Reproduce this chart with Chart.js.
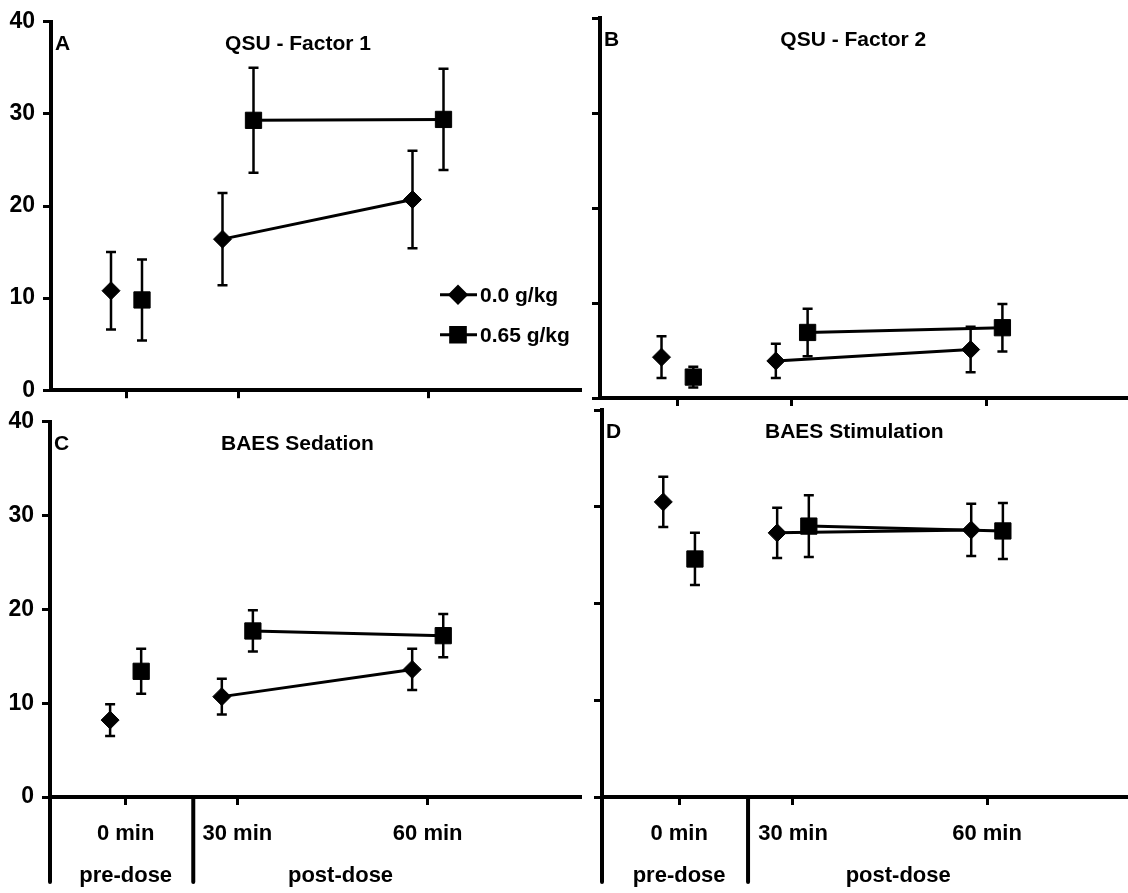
<!DOCTYPE html>
<html>
<head>
<meta charset="utf-8">
<script src="https://cdn.jsdelivr.net/npm/chart.js@4.4.0/dist/chart.umd.min.js"></script>
<style>
  body { margin: 0; background: #fff; }
  #wrap { position: relative; width: 1128px; height: 893px; }
  canvas { position: absolute; }
</style>
</head>
<body>
<div id="wrap">
  <canvas id="panelA" width="585" height="412" style="left:0;top:0"></canvas>
  <canvas id="panelB" width="543" height="412" style="left:585px;top:0"></canvas>
  <canvas id="panelC" width="585" height="493" style="left:0;top:400px"></canvas>
  <canvas id="panelD" width="543" height="493" style="left:585px;top:400px"></canvas>
</div>
<script>
// time points and labels
var categories = ['0 min', '30 min', '60 min'];
var groupLabels = ['pre-dose', 'post-dose'];
var seriesNames = ['0.0 g/kg', '0.65 g/kg'];
var panelLetters = ['A', 'B', 'C', 'D'];
var panelTitles = ['QSU - Factor 1', 'QSU - Factor 2', 'BAES Sedation', 'BAES Stimulation'];
var yTicks = [0, 10, 20, 30, 40];

// means (one per time point) and error bar half-widths
var qsu1Placebo = [10.8, 16.4, 20.7];
var qsu1PlaceboErr = [4.2, 5.0, 5.3];
var qsu1Alcohol = [9.8, 29.3, 29.4];
var qsu1AlcoholErr = [4.4, 5.7, 5.5];

var qsu2Placebo = [4.3, 3.9, 5.1];
var qsu2PlaceboErr = [2.2, 1.8, 2.4];
var qsu2Alcohol = [2.2, 6.9, 7.4];
var qsu2AlcoholErr = [1.1, 2.5, 2.5];

var sedPlacebo = [8.2, 10.7, 13.6];
var sedPlaceboErr = [1.7, 1.9, 2.2];
var sedAlcohol = [13.4, 17.7, 17.2];
var sedAlcoholErr = [2.4, 2.2, 2.3];

var stimPlacebo = [30.5, 27.3, 27.6];
var stimPlaceboErr = [2.6, 2.6, 2.7];
var stimAlcohol = [24.6, 28.0, 27.5];
var stimAlcoholErr = [2.7, 3.2, 2.9];

// layout (x units along the time axis)
var slotX = [75.5, 187, 377];
var shift = 15.5;
var dividerX = 143;
var groupX = [75.5, 290];
var titleX = 247;
var FONT = '"Liberation Sans", Arial, sans-serif';

var panels = [
  { id: 'panelA', series: [qsu1Placebo, qsu1Alcohol], errs: [qsu1PlaceboErr, qsu1AlcoholErr],
    xMax: 529, top: 20, right: 5, yWidth: 51, xHeight: 14, yLabels: true, bottom: false, legend: true },
  { id: 'panelB', series: [qsu2Placebo, qsu2Alcohol], errs: [qsu2PlaceboErr, qsu2AlcoholErr],
    xMax: 515, top: 18, right: 0, yWidth: 15, xHeight: 14, yLabels: false, bottom: false, legend: false },
  { id: 'panelC', series: [sedPlacebo, sedAlcohol], errs: [sedPlaceboErr, sedAlcoholErr],
    xMax: 529, top: 14, right: 5, yWidth: 50, xHeight: 96, yLabels: true, bottom: true, legend: false },
  { id: 'panelD', series: [stimPlacebo, stimAlcohol], errs: [stimPlaceboErr, stimAlcoholErr],
    xMax: 515, top: 10, right: 0, yWidth: 17, xHeight: 96, yLabels: false, bottom: true, legend: false }
];

var styles = [
  { pointStyle: 'rectRot', radius: 9 },
  { pointStyle: 'rect', radius: 11.5 }
];

var decor = {
  id: 'decor',
  beforeDatasetsDraw: function(chart) {
    var ctx = chart.ctx, ys = chart.scales.y;
    ctx.save();
    ctx.strokeStyle = '#000';
    ctx.lineWidth = 2.5;
    chart.data.datasets.forEach(function(ds, i) {
      var meta = chart.getDatasetMeta(i);
      meta.data.forEach(function(pt, j) {
        var v = ds.data[j].y, e = ds.err[j];
        var y1 = ys.getPixelForValue(v + e), y2 = ys.getPixelForValue(v - e);
        ctx.beginPath();
        ctx.moveTo(pt.x, y1); ctx.lineTo(pt.x, y2);
        ctx.moveTo(pt.x - 5, y1); ctx.lineTo(pt.x + 5, y1);
        ctx.moveTo(pt.x - 5, y2); ctx.lineTo(pt.x + 5, y2);
        ctx.stroke();
      });
    });
    ctx.restore();
  },
  afterDraw: function(chart) {
    var ctx = chart.ctx, a = chart.chartArea, xs = chart.scales.x;
    var p = chart.options.plugins.decor;
    ctx.save();
    ctx.fillStyle = '#000';
    ctx.strokeStyle = '#000';
    ctx.textBaseline = 'middle';
    ctx.font = 'bold 21px ' + FONT;
    ctx.textAlign = 'left';
    ctx.fillText(panelLetters[p.index], a.left + 4, a.top + 22);
    ctx.textAlign = 'center';
    ctx.fillText(panelTitles[p.index], xs.getPixelForValue(titleX), a.top + 22);

    if (p.legend) {
      ctx.font = 'bold 21px ' + FONT;
      ctx.textAlign = 'left';
      seriesNames.forEach(function(name, i) {
        var ly = a.top + 273 + i * 40, lx = a.left + 389;
        ctx.lineWidth = 3;
        ctx.beginPath(); ctx.moveTo(lx, ly); ctx.lineTo(lx + 37, ly); ctx.stroke();
        Chart.helpers.drawPoint(ctx, { pointStyle: styles[i].pointStyle, radius: styles[i].radius * 0.9,
          rotation: 0, borderWidth: 1 }, lx + 18, ly);
        ctx.fillText(name, lx + 40, ly + 1);
      });
    }

    if (p.bottom) {
      var end = a.bottom + 85;
      ctx.lineWidth = 4;
      ctx.lineCap = 'round';
      ctx.beginPath();
      ctx.moveTo(a.left, a.bottom); ctx.lineTo(a.left, end);
      var dx = xs.getPixelForValue(dividerX);
      ctx.moveTo(dx, a.bottom); ctx.lineTo(dx, end);
      ctx.stroke();
      ctx.font = 'bold 22px ' + FONT;
      ctx.textAlign = 'center';
      groupLabels.forEach(function(g, i) {
        ctx.fillText(g, xs.getPixelForValue(groupX[i]), a.bottom + 79);
      });
    }
    ctx.restore();
  }
};

panels.forEach(function(pn, k) {
  var datasets = pn.series.map(function(vals, s) {
    return {
      label: seriesNames[s],
      data: vals.map(function(v, j) { return { x: slotX[j] + (s === 0 ? -shift : shift), y: v }; }),
      err: pn.errs[s],
      borderColor: '#000',
      backgroundColor: '#000',
      borderWidth: 3,
      pointStyle: styles[s].pointStyle,
      pointRadius: styles[s].radius,
      pointBorderWidth: 1,
      pointBackgroundColor: '#000',
      pointBorderColor: '#000',
      segment: { borderColor: function(c) { return c.p0DataIndex === 0 ? 'rgba(0,0,0,0)' : undefined; } },
      clip: false
    };
  });

  new Chart(document.getElementById(pn.id), {
    type: 'line',
    data: { datasets: datasets },
    plugins: [decor],
    options: {
      responsive: false,
      animation: false,
      events: [],
      layout: { autoPadding: false, padding: { top: pn.top, right: pn.right, left: 0, bottom: 0 } },
      plugins: {
        legend: { display: false },
        tooltip: { enabled: false },
        decor: { index: k, legend: pn.legend, bottom: pn.bottom }
      },
      scales: {
        x: {
          type: 'linear', min: 0, max: pn.xMax, position: 'bottom',
          border: { display: true, width: 4, color: '#000' },
          grid: { display: true, drawOnChartArea: false, drawTicks: true, tickLength: 8, lineWidth: 3, color: '#000' },
          afterBuildTicks: function(s) { s.ticks = slotX.map(function(v) { return { value: v }; }); },
          afterFit: function(s) { s.height = pn.xHeight; },
          ticks: {
            display: pn.bottom, autoSkip: false, padding: 16, color: '#000', maxRotation: 0,
            font: { family: FONT, size: 22, weight: 'bold' },
            callback: function(v, i) { return categories[i]; }
          }
        },
        y: {
          min: 0, max: 40,
          border: { display: true, width: 4, color: '#000' },
          grid: { display: true, drawOnChartArea: false, drawTicks: true, tickLength: 8, lineWidth: 3, color: '#000' },
          afterBuildTicks: function(s) { s.ticks = yTicks.map(function(v) { return { value: v }; }); },
          afterFit: function(s) { s.width = pn.yWidth; },
          ticks: {
            display: pn.yLabels, padding: 8, color: '#000',
            font: { family: FONT, size: 23, weight: 'bold' }
          }
        }
      }
    }
  });
});
</script>
</body>
</html>
